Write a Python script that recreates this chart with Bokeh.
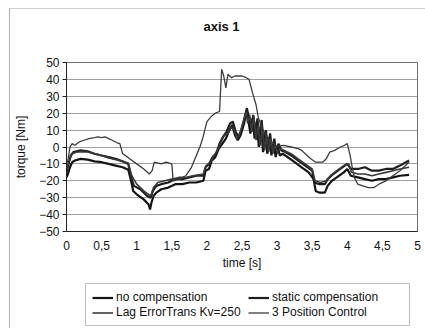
from bokeh.plotting import figure
from bokeh.models import FixedTicker, Legend, LegendItem, Label
from bokeh.layouts import column
from bokeh.embed import file_html
from bokeh.resources import INLINE

# ---- data ----
t_nocomp = [0.00, 0.02, 0.05, 0.08, 0.12, 0.20, 0.30, 0.40, 0.50, 0.60, 0.70, 0.80, 0.88, 0.92, 0.95,
            1.00, 1.10, 1.17, 1.19, 1.21, 1.24, 1.28, 1.35, 1.45, 1.55, 1.65, 1.75, 1.85, 1.95, 1.98,
            2.03, 2.07, 2.12, 2.17, 2.22, 2.27, 2.32, 2.36, 2.40, 2.44, 2.48, 2.53, 2.56, 2.59, 2.62,
            2.65, 2.68, 2.71, 2.74, 2.77, 2.80, 2.83, 2.86, 2.89, 2.92, 2.95, 2.98, 3.01, 3.04, 3.08,
            3.15, 3.25, 3.35, 3.45, 3.52, 3.55, 3.60, 3.68, 3.72, 3.78, 3.85, 3.95, 4.00, 4.05, 4.15,
            4.25, 4.35, 4.45, 4.55, 4.65, 4.75, 4.88]
v_nocomp = [-18, -16, -12, -9, -8, -7, -7.5, -8.5, -9, -10, -11, -12, -13.5, -20, -26,
            -28, -31, -34, -37, -33, -29, -27, -25, -24, -22, -22, -21, -21, -20, -14,
            -13, -8, -6, -1, 2, 5, 10, 13, 7, 4, 7, 14, 20, 16, 8,
            17, 5, 15, 0, 14, -3, 8, -4, 6, -5, 3, -6, 0, -5, -4,
            -6, -9, -12, -15, -19, -26, -27, -27, -23, -20, -18, -15, -13, -17, -18,
            -19, -20, -19, -19, -18, -17, -16.5]

t_static = [0.00, 0.03, 0.06, 0.10, 0.20, 0.30, 0.40, 0.50, 0.60, 0.70, 0.80, 0.88, 0.92, 0.96, 1.05,
            1.15, 1.20, 1.23, 1.28, 1.35, 1.45, 1.55, 1.65, 1.75, 1.85, 1.95, 1.98, 2.03, 2.08, 2.13,
            2.18, 2.23, 2.28, 2.33, 2.37, 2.41, 2.45, 2.49, 2.54, 2.57, 2.60, 2.63, 2.66, 2.69, 2.72,
            2.75, 2.78, 2.81, 2.84, 2.87, 2.90, 2.93, 2.96, 2.99, 3.02, 3.06, 3.12, 3.20, 3.30, 3.40,
            3.50, 3.53, 3.60, 3.68, 3.72, 3.80, 3.90, 4.00, 4.05, 4.15, 4.25, 4.35, 4.45, 4.55, 4.65,
            4.75, 4.88]
v_static = [-15, -10, -5, -3, -2, -2.5, -4, -5, -6, -7, -8.5, -10, -18, -23, -25,
            -29, -30, -26, -23, -22, -21, -19, -19, -18, -17, -17, -12, -10, -6, -4,
            2, 6, 9, 14, 15, 9, 6, 10, 18, 23, 17, 10, 19, 7, 17,
            2, 16, -1, 10, -2, 8, -3, 5, -4, 2, -2, -3, -5, -8, -11,
            -14, -21, -22, -22, -19, -16, -13, -10, -13, -13, -12, -14, -14, -13, -13,
            -11, -8]

t_lag = [0.00, 0.04, 0.08, 0.15, 0.30, 0.45, 0.60, 0.75, 0.88, 0.93, 1.00, 1.10, 1.20, 1.24, 1.30,
         1.40, 1.50, 1.60, 1.70, 1.80, 1.95, 1.99, 2.05, 2.10, 2.15, 2.20, 2.25, 2.30, 2.35, 2.39,
         2.43, 2.47, 2.52, 2.56, 2.58, 2.61, 2.64, 2.67, 2.70, 2.73, 2.76, 2.79, 2.82, 2.85, 2.88,
         2.91, 2.94, 2.97, 3.00, 3.05, 3.10, 3.20, 3.30, 3.40, 3.50, 3.54, 3.62, 3.70, 3.76, 3.85,
         3.95, 4.02, 4.06, 4.15, 4.25, 4.35, 4.45, 4.55, 4.65, 4.75, 4.88]
v_lag = [-14, -8, -4, -3, -3, -4.5, -6.5, -8, -9.5, -17, -22, -26, -29, -24, -21,
         -20, -19, -18, -18, -17, -16, -11, -9, -5, -2, 3, 7, 8, 12, 10,
         5, 8, 15, 21, 14, 19, 9, 18, 4, 13, 1, 12, -2, 7, -3,
         5, -4, 2, -3, -1, -2, -4, -7, -10, -13, -20, -21, -20, -17, -14,
         -11, -10, -15, -16, -16, -17, -16, -15, -14, -13, -12]

t_3pos = [0.00, 0.02, 0.05, 0.08, 0.12, 0.18, 0.25, 0.32, 0.40, 0.45, 0.50, 0.55, 0.60, 0.65, 0.72,
          0.76, 0.80, 0.84, 0.90, 1.00, 1.10, 1.18, 1.22, 1.25, 1.35, 1.42, 1.50, 1.52, 1.60, 1.70,
          1.78, 1.85, 1.90, 1.94, 2.00, 2.06, 2.12, 2.18, 2.21, 2.24, 2.27, 2.30, 2.35, 2.40, 2.50,
          2.56, 2.60, 2.65, 2.70, 2.73, 2.76, 2.80, 2.85, 2.90, 2.95, 3.00, 3.10, 3.20, 3.30, 3.35,
          3.40, 3.48, 3.55, 3.65, 3.70, 3.75, 3.82, 3.90, 3.96, 4.00, 4.04, 4.07, 4.10, 4.15, 4.22,
          4.30, 4.38, 4.45, 4.55, 4.65, 4.75, 4.88]
v_3pos = [-10, -8, 0, 2, 1, 3, 4, 5, 5.5, 6, 5.5, 6, 5, 4, 2.5,
          2, -4, -5, -7, -10, -13, -16, -14, -9, -10, -9, -10, -20, -19, -17,
          -12, -5, 0, 5, 15, 18, 20, 21, 46, 42, 35, 43, 41, 42, 42,
          41, 40, 32, 25, 18, 14, 10, 6, 3, 2, 0.5, 1, 0, -1, -2,
          -4, -7, -9, -9, -7, -3, -2, 0, 1, 2, -5, -12, -18, -22, -23,
          -24, -24, -22, -20, -17, -14, -9]

title_text = "axis 1"
series_names = ["no compensation", "static compensation", "Lag ErrorTrans Kv=250", "3 Position Control"]
x_ticks = [0, 0.5, 1, 1.5, 2, 2.5, 3, 3.5, 4, 4.5, 5]
x_tick_labels = ["0", "0,5", "1", "1,5", "2", "2,5", "3", "3,5", "4", "4,5", "5"]
y_ticks = [-50, -40, -30, -20, -10, 0, 10, 20, 30, 40, 50]

FONT = "Liberation Sans"
series = [(t_nocomp, v_nocomp), (t_static, v_static), (t_lag, v_lag), (t_3pos, v_3pos)]
styles_ = [dict(line_color="#141414", line_width=2.2),
           dict(line_color="#1e1e1e", line_width=2.2),
           dict(line_color="#3a3a3a", line_width=1.6),
           dict(line_color="#3c3c3c", line_width=1.3)]


def strip(height):
    f = figure(width=415, height=height, x_range=(0, 1), y_range=(1000, 1001),
               output_backend="svg", toolbar_location=None,
               min_border_left=56, min_border_right=8, min_border_top=0, min_border_bottom=0,
               background_fill_color="white", border_fill_color="white")
    f.axis.visible = False
    f.grid.visible = False
    f.outline_line_color = None
    return f


# ---- title strip ----
pt = strip(37)
pt.add_layout(Label(x=155, y=20, x_units="screen", y_units="screen", text=title_text,
                    text_align="center", text_baseline="middle", text_font=FONT,
                    text_font_size="13px", text_font_style="bold", text_color="#111111"))

# ---- main chart ----
p = figure(width=415, height=226, x_range=(0, 5), y_range=(-50, 50),
           output_backend="svg", toolbar_location=None,
           min_border_left=56, min_border_right=8, min_border_top=16, min_border_bottom=39,
           background_fill_color="white", border_fill_color="white")

p.outline_line_color = "#707070"
p.outline_line_width = 1

p.xgrid.visible = False
p.ygrid.grid_line_color = "#a0a0a0"
p.ygrid.grid_line_width = 1
p.ygrid.ticker = FixedTicker(ticks=y_ticks)

p.xaxis.ticker = FixedTicker(ticks=x_ticks)
p.xaxis.major_label_overrides = dict(zip(x_ticks, x_tick_labels))
p.xaxis.major_tick_out = 0
p.xaxis.major_tick_in = 0
p.xaxis.minor_tick_out = 0
p.xaxis.minor_tick_in = 0
p.xaxis.major_label_standoff = 9
p.xaxis.axis_label = "time [s]"
p.xaxis.axis_label_standoff = 3

p.yaxis.ticker = FixedTicker(ticks=y_ticks)
p.yaxis.major_tick_out = 4
p.yaxis.major_tick_in = 0
p.yaxis.minor_tick_out = 0
p.yaxis.minor_tick_in = 0
p.yaxis.major_label_standoff = 3
p.yaxis.axis_label = "torque [Nm]"
p.yaxis.axis_label_standoff = 8

for ax in (p.xaxis[0], p.yaxis[0]):
    ax.axis_line_color = "#222222"
    ax.major_tick_line_color = "#222222"
    ax.major_label_text_font = FONT
    ax.major_label_text_font_size = "12px"
    ax.major_label_text_color = "#111111"
    ax.axis_label_text_font = FONT
    ax.axis_label_text_font_size = "12px"
    ax.axis_label_text_font_style = "normal"
    ax.axis_label_text_color = "#111111"

for (tx, vy), st in zip(series, styles_):
    p.line(tx, vy, **st)

# ---- legend strip below the chart (its lines lie outside its empty view) ----
pl = strip(57)
leg_r = [pl.line(tx, vy, **st) for (tx, vy), st in zip(series, styles_)]

legend = Legend(items=[LegendItem(label=name, renderers=[r]) for name, r in zip(series_names, leg_r)],
                orientation="horizontal", nrows=2,
                location=(19, 3),
                label_text_font=FONT, label_text_font_size="12px", label_text_color="#111111",
                glyph_width=21, glyph_height=13, label_standoff=3, label_width=131, spacing=1,
                padding=6, margin=0,
                border_line_color="#808080", border_line_width=1,
                background_fill_color="white", background_fill_alpha=1)
pl.add_layout(legend, "center")

layout = column(pt, p, pl, spacing=0,
                styles={"margin-left": "9px", "margin-top": "8px",
                        "border-left": "1px solid #b0b0b0", "border-top": "1px solid #d0d0d0"})

open("out.html", "w").write(file_html(layout, INLINE))
